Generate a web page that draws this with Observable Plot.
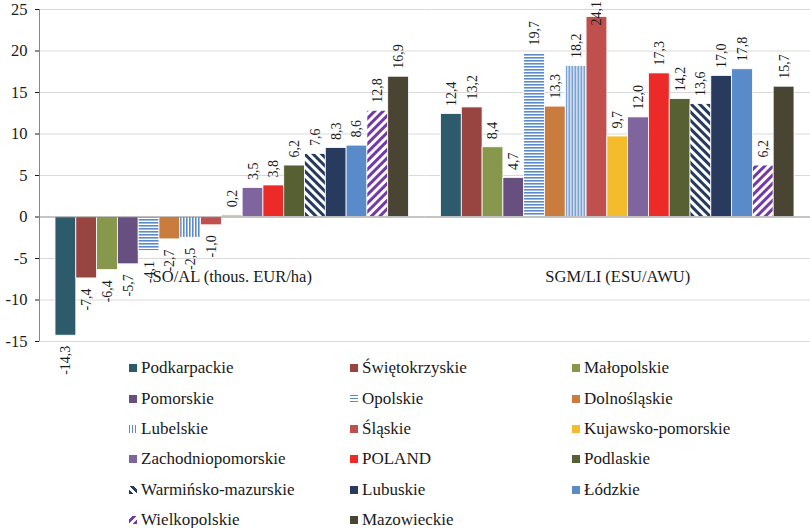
<!DOCTYPE html>
<html><head><meta charset="utf-8">
<script src="https://cdn.jsdelivr.net/npm/d3@7"></script>
<script src="https://cdn.jsdelivr.net/npm/@observablehq/plot@0.6"></script>
<style>
body{margin:0;background:#fff;font-family:"Liberation Serif","DejaVu Serif",serif;}
#chart svg{overflow:visible;display:block}
#legend{display:grid;grid-template-columns:221px 222px 220px;grid-auto-rows:30.4px;padding-left:129px;padding-top:3px;}
.item{display:flex;align-items:center;font-size:17px;color:#1a1a1a;white-space:nowrap}
.sw{width:8px;height:8px;margin-right:4px;flex:none}
</style></head><body>
<div id="chart"></div>
<div id="legend"></div>
<script>
// ---- data ----
const regions = ["Podkarpackie","Świętokrzyskie","Małopolskie","Pomorskie","Opolskie","Dolnośląskie","Lubelskie","Śląskie","Kujawsko-pomorskie","Zachodniopomorskie","POLAND","Podlaskie","Warmińsko-mazurskie","Lubuskie","Łódzkie","Wielkopolskie","Mazowieckie"];
const soal  = [-14.3,-7.4,-6.4,-5.7,-4.1,-2.7,-2.5,-1.0,0.2,3.5,3.8,6.2,7.6,8.3,8.6,12.8,16.9];
const sgmli = [12.4,13.2,8.4,4.7,19.7,13.3,18.2,24.1,9.7,12.0,17.3,14.2,13.6,17.0,17.8,6.2,15.7];
const groups = ["SO/AL (thous. EUR/ha)","SGM/LI (ESU/AWU)"];
const yTicks = [-15,-10,-5,0,5,10,15,20,25];
// ---- styles ----
const colors = ["#2d5b6b","#984542","#87984d","#67507f","#5b8bc9","#c97c3e","#5b8bc9","#c0504d","#f4bc2c","#7f659e","#ec2a28","#566033","#253a60","#283a5e","#598bcb","#7538a8","#4a4533"];
const kinds  = ["s","s","s","s","h","s","v","s","s","s","s","s","d","s","s","u","s"];
const labelTop = 22.1; // highest label anchor that keeps the label inside the picture

const fillOf = i => kinds[i] === "s" ? colors[i] : `url(#pat${i})`;
const data = [];
groups.forEach((g, gi) => regions.forEach((r, i) => data.push({group: g, region: r, value: (gi ? sgmli : soal)[i], fill: fillOf(i)})));
const fmt = v => v.toFixed(1).replace(".", ",");
const serif = "'Liberation Serif', 'DejaVu Serif', serif";

const plot = Plot.plot({
  width: 810, height: 350,
  marginLeft: 39, marginRight: 0, marginTop: 9, marginBottom: 9,
  style: {fontFamily: serif, fontSize: "16.5px", color: "#1a1a1a", background: "transparent"},
  facet: {data, x: "group"},
  fx: {domain: groups, padding: 0, round: false, label: null, tickSize: 0, tickPadding: -71},
  x: {domain: regions, paddingInner: 0, paddingOuter: 0.77, round: false, axis: null},
  y: {domain: [-15, 25], ticks: yTicks, tickFormat: d => String(d), tickSize: 4, tickPadding: 8, label: null},
  color: {type: "identity"},
  marks: [
    Plot.ruleY(yTicks.filter(t => t !== 0), {stroke: "#d9d9d9", strokeWidth: 1}),
    Plot.barY(data, {x: "region", y: "value", fill: "fill", stroke: "white", strokeWidth: 0.8}),
    Plot.ruleY([0], {stroke: "#8c8c8c", strokeWidth: 1.2}),
    Plot.text(data, {filter: d => d.value >= 0, x: "region", y: d => Math.min(d.value, labelTop), text: d => fmt(d.value), rotate: -90, textAnchor: "start", dy: -8, fontSize: 14}),
    Plot.text(data, {filter: d => d.value < 0, x: "region", y: "value", text: d => fmt(d.value), rotate: -90, textAnchor: "end", dy: 10, fontSize: 14})
  ]
});

// patterns
const defs = d3.select(plot).insert("defs", ":first-child");
kinds.forEach((k, i) => {
  if (k === "s") return;
  const c = colors[i];
  if (k === "h" || k === "v") {
    const p = defs.append("pattern").attr("id", `pat${i}`).attr("patternUnits", "userSpaceOnUse").attr("width", 3).attr("height", 3);
    p.append("rect").attr("width", 3).attr("height", 3).attr("fill", "white");
    if (k === "h") p.append("rect").attr("width", 3).attr("height", 1.6).attr("fill", c);
    else p.append("rect").attr("width", 1.6).attr("height", 3).attr("fill", c);
  } else {
    const p = defs.append("pattern").attr("id", `pat${i}`).attr("patternUnits", "userSpaceOnUse").attr("width", 6).attr("height", 6)
      .attr("patternTransform", `rotate(${k === "d" ? 45 : -45})`);
    p.append("rect").attr("width", 6).attr("height", 6).attr("fill", "white");
    p.append("rect").attr("width", 6).attr("height", 3).attr("fill", c);
  }
});
d3.select(plot).selectAll("[aria-label^='y-axis tick']").filter(function(){return !this.getAttribute("aria-label").includes("label");}).attr("stroke", "#a6a6a6");
document.getElementById("chart").append(plot);

// y-axis line (drawn through the y scale)
const yS = plot.scale("y");
d3.select(plot).append("line").attr("x1", 39.5).attr("x2", 39.5).attr("y1", yS.apply(25)).attr("y2", yS.apply(-15)).attr("stroke", "#868686");

// legend
const leg = document.getElementById("legend");
regions.forEach((r, i) => {
  const it = document.createElement("div"); it.className = "item";
  const sw = document.createElement("span"); sw.className = "sw";
  const c = colors[i];
  if (kinds[i] === "s") sw.style.background = c;
  else if (kinds[i] === "h") sw.style.background = `repeating-linear-gradient(to bottom, ${c} 0 1.5px, #fff 1.5px 3px)`;
  else if (kinds[i] === "v") sw.style.background = `repeating-linear-gradient(to right, ${c} 0 1.5px, #fff 1.5px 3px)`;
  else if (kinds[i] === "d") sw.style.background = `repeating-linear-gradient(45deg, ${c} 0 3px, #fff 3px 6px)`;
  else sw.style.background = `repeating-linear-gradient(-45deg, ${c} 0 3px, #fff 3px 6px)`;
  it.append(sw); it.append(document.createTextNode(r));
  leg.append(it);
});
</script>
</body></html>
